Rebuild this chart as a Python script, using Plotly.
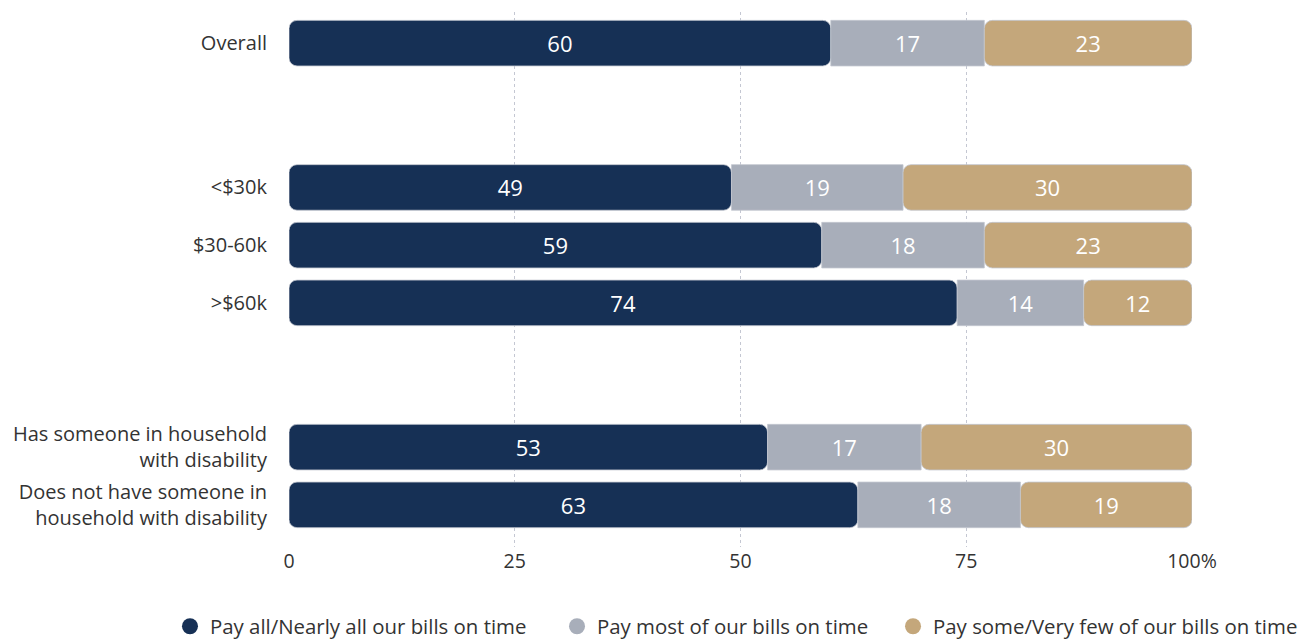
import plotly.graph_objects as go

categories = ["Overall", "<$30k", "$30-60k", ">$60k",
              "Has someone in household<br>with disability",
              "Does not have someone in<br>household with disability"]
y_pos = [0, 2.5, 3.5, 4.5, 7, 8]
series_names = ["Pay all/Nearly all our bills on time",
                "Pay most of our bills on time",
                "Pay some/Very few of our bills on time"]
pay_all = [60, 49, 59, 74, 53, 63]
pay_most = [17, 19, 18, 14, 17, 18]
pay_some = [23, 30, 23, 12, 30, 19]          # labels shown on the chart
total = [100, 100, 100, 100, 100, 100]       # every bar spans the full 100%
tick_vals = [0, 25, 50, 75, 100]
tick_text = ["0", "25", "50", "75", "100%"]

colors = ["#163055", "#A8AEBA", "#C4A77B"]
FONT = "Open Sans"
OUTLINE = dict(color="#c3c7cf", width=0.8)
TXT = dict(color="white", size=22, family=FONT)

fig = go.Figure()
# navy: drawn from its right edge back to 0 so the rounded end sits at the left
fig.add_trace(go.Bar(
    y=y_pos, x=[-v for v in pay_all], base=pay_all, orientation="h",
    marker=dict(color=colors[0], line=OUTLINE, cornerradius=8),
    text=[str(v) for v in pay_all], textposition="inside", insidetextanchor="middle",
    textfont=TXT, width=0.79, showlegend=False, hoverinfo="skip"))
# gray: middle segment, square ends
fig.add_trace(go.Bar(
    y=y_pos, x=pay_most, base=pay_all, orientation="h",
    marker=dict(color=colors[1], line=OUTLINE, cornerradius=0),
    text=[str(v) for v in pay_most], textposition="inside", insidetextanchor="middle",
    textfont=TXT, width=0.79, showlegend=False, hoverinfo="skip"))
# tan: fills the remainder to 100%, rounded at the right
tan_base = [a + b for a, b in zip(pay_all, pay_most)]
fig.add_trace(go.Bar(
    y=y_pos, x=[t - s for t, s in zip(total, tan_base)], base=tan_base, orientation="h",
    marker=dict(color=colors[2], line=OUTLINE, cornerradius=8),
    text=[str(v) for v in pay_some], textposition="inside", insidetextanchor="middle",
    textfont=TXT, width=0.79, showlegend=False, hoverinfo="skip"))

legend_ids = ["legend", "legend2", "legend3"]
for name, col, lid in zip(series_names, colors, legend_ids):
    fig.add_trace(go.Scatter(
        x=[None], y=[None], mode="markers", name=name, legend=lid,
        marker=dict(symbol="circle", size=18, color=col), showlegend=True))

LEG_Y = -0.1112
def leg(x):
    return dict(orientation="h", x=x, xanchor="left", y=LEG_Y, yanchor="top",
                font=dict(size=20.4, color="#333333"), itemsizing="trace",
                itemwidth=30, bgcolor="rgba(0,0,0,0)")

fig.update_layout(
    barmode="overlay",
    width=1307, height=660,
    margin=dict(l=281, r=123, t=4, b=121),
    plot_bgcolor="white", paper_bgcolor="white",
    font=dict(family=FONT, size=19, color="#333333"),
    legend=leg(-0.1318), legend2=leg(0.2968), legend3=leg(0.6689),
    xaxis=dict(range=[0, 100], tickvals=tick_vals, ticktext=tick_text,
               showgrid=True, gridcolor="#c4c7d2", griddash="3px,3px", gridwidth=1.2,
               zeroline=False, showline=False, ticks="", fixedrange=True,
               tickfont=dict(size=19.5, color="#333333")),
    yaxis=dict(range=[8.73, -0.54], tickvals=y_pos, ticktext=categories,
               showgrid=False, zeroline=False, showline=False, ticks="",
               ticklabelstandoff=21, fixedrange=True,
               tickfont=dict(size=20, color="#333333")),
)

fig.write_html("out.html")
